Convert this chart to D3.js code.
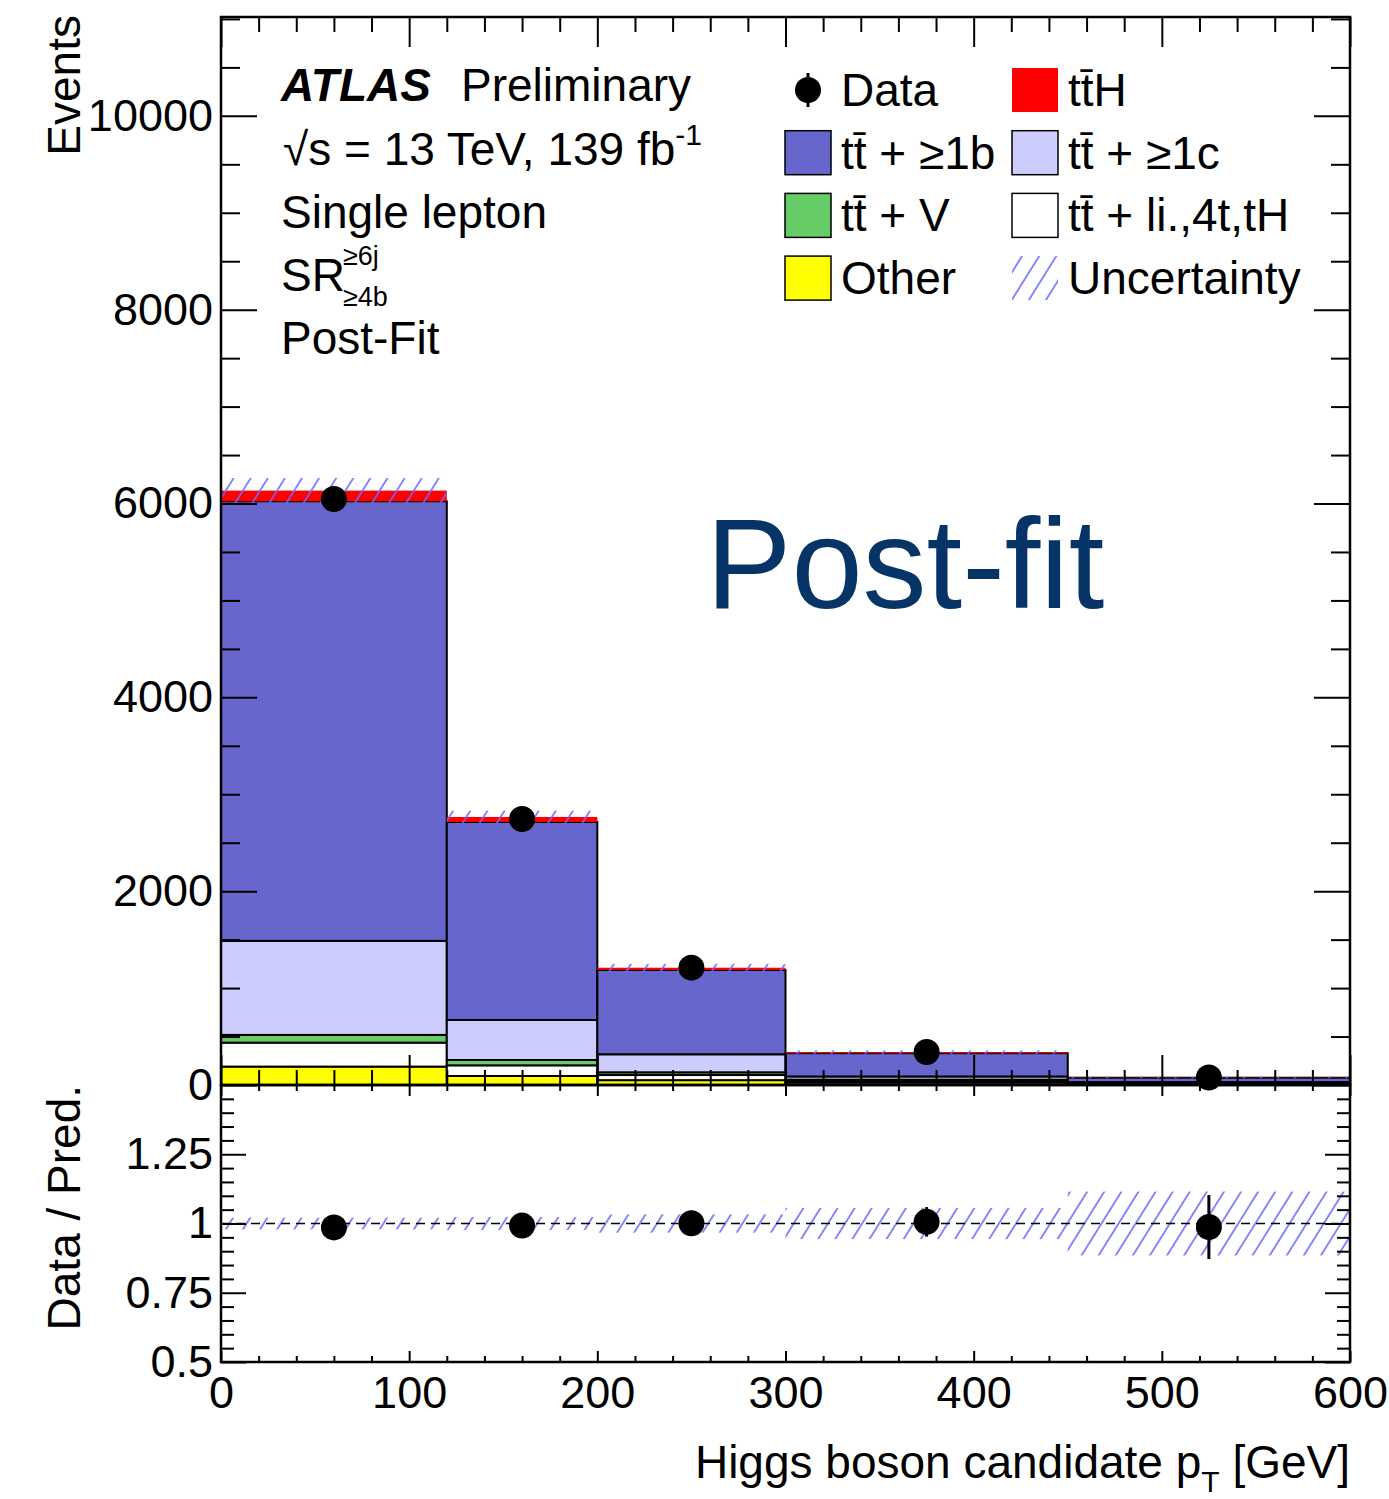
<!DOCTYPE html>
<html>
<head>
<meta charset="utf-8">
<script src="https://cdn.jsdelivr.net/npm/d3@7"></script>
<style>
  html, body { margin: 0; padding: 0; background: #fff; }
  svg { display: block; font-family: "Liberation Sans", Arial, Helvetica, sans-serif; }
</style>
</head>
<body>
<svg id="chart" width="1389" height="1499"></svg>
<script>
// ---------------- data ----------------
const binEdges = [0, 120, 200, 300, 450, 600];
const other    = [190, 93, 50, 25, 6];
const ttLight  = [247, 110, 53, 20, 6];
const ttV      = [80, 55, 28, 10, 3];
const tt1c     = [970, 413, 186, 33, 15];
const tt1b     = [4536, 2043, 870, 240, 45];
const ttH      = [110, 52, 23, 10, 3];
const dataVals = [6047, 2745, 1211, 340, 77];
const dataErr  = [78, 52, 35, 18, 9];
const uncAbs   = [130, 65, 40, 19, 9];

const mainYTicks  = [0, 2000, 4000, 6000, 8000, 10000];
const ratioYTicks = [0.5, 0.75, 1, 1.25];
const xTicks      = [0, 100, 200, 300, 400, 500, 600];

const componentNames  = ["other", "ttLight", "ttV", "tt1c", "tt1b", "ttH"];
const componentValues = { other, ttLight, ttV, tt1c, tt1b, ttH };
const componentColors = {
  other: "#ffff00", ttLight: "#ffffff", ttV: "#66cc66",
  tt1c: "#ccccff", tt1b: "#6666cc", ttH: "#ff0000"
};

// ---------------- geometry ----------------
const X0 = 221, X1 = 1350;
const MAIN_TOP = 17, MAIN_BOT = 1085, RAT_BOT = 1362;
const x = d3.scaleLinear().domain([0, 600]).range([X0, X1]);
const y = d3.scaleLinear().domain([0, 11020]).range([MAIN_BOT, MAIN_TOP]);
const r = d3.scaleLinear().domain([0.5, 1.5]).range([RAT_BOT, MAIN_BOT]);

const svg = d3.select("#chart");
const HATCH = "#6a6aff";

// hatch pattern
const defs = svg.append("defs");
const pat = defs.append("pattern")
  .attr("id", "hatch").attr("patternUnits", "userSpaceOnUse")
  .attr("width", 14.5).attr("height", 14.5)
  .attr("patternTransform", "rotate(32)");
pat.append("line").attr("x1", 2).attr("y1", 0).attr("x2", 2).attr("y2", 14.5)
  .attr("stroke", HATCH).attr("stroke-width", 1.6);

const bins = binEdges.slice(0, -1).map((lo, i) => {
  const o = { i, lo, hi: binEdges[i + 1], center: (lo + binEdges[i + 1]) / 2 };
  componentNames.forEach(n => o[n] = componentValues[n][i]);
  return o;
});
const stack = d3.stack().keys(componentNames)(bins);
const totals = bins.map((b, i) => d3.sum(componentNames, n => componentValues[n][i]));

// ---------------- main panel ----------------
const gMain = svg.append("g");
stack.forEach(layer => {
  const key = layer.key;
  gMain.append("g").selectAll("rect").data(layer).join("rect")
    .attr("x", d => x(d.data.lo))
    .attr("width", d => x(d.data.hi) - x(d.data.lo))
    .attr("y", d => y(d[1]))
    .attr("height", d => Math.max(0, y(d[0]) - y(d[1])))
    .attr("fill", componentColors[key])
    .attr("stroke", key === "ttH" ? "none" : "#000")
    .attr("stroke-width", 2);
});
// redraw black outline at top of tt1b (under red)
// uncertainty band
gMain.append("g").selectAll("rect").data(bins).join("rect")
  .attr("x", d => x(d.lo)).attr("width", d => x(d.hi) - x(d.lo))
  .attr("y", (d, i) => y(totals[i] + uncAbs[i]))
  .attr("height", (d, i) => y(totals[i] - uncAbs[i]) - y(totals[i] + uncAbs[i]))
  .attr("fill", "url(#hatch)");

// data points main
const gData = gMain.append("g");
gData.selectAll("line").data(bins).join("line")
  .attr("x1", d => x(d.center)).attr("x2", d => x(d.center))
  .attr("y1", (d, i) => y(dataVals[i] + dataErr[i]))
  .attr("y2", (d, i) => y(dataVals[i] - dataErr[i]))
  .attr("stroke", "#000").attr("stroke-width", 3);
gData.selectAll("circle").data(bins).join("circle")
  .attr("cx", d => x(d.center)).attr("cy", (d, i) => y(dataVals[i]))
  .attr("r", 13).attr("fill", "#000");

// ---------------- ratio panel ----------------
const gRat = svg.append("g");
gRat.append("g").selectAll("rect").data(bins).join("rect")
  .attr("x", d => x(d.lo)).attr("width", d => x(d.hi) - x(d.lo))
  .attr("y", (d, i) => r(1 + uncAbs[i] / totals[i]))
  .attr("height", (d, i) => r(1 - uncAbs[i] / totals[i]) - r(1 + uncAbs[i] / totals[i]))
  .attr("fill", "url(#hatch)");
gRat.append("line")
  .attr("x1", X0).attr("x2", X1).attr("y1", r(1)).attr("y2", r(1))
  .attr("stroke", "#000").attr("stroke-width", 1.6).attr("stroke-dasharray", "9,6");
gRat.append("g").selectAll("line").data(bins).join("line")
  .attr("x1", d => x(d.center)).attr("x2", d => x(d.center))
  .attr("y1", (d, i) => r((dataVals[i] + dataErr[i]) / totals[i]))
  .attr("y2", (d, i) => r((dataVals[i] - dataErr[i]) / totals[i]))
  .attr("stroke", "#000").attr("stroke-width", 3);
gRat.append("g").selectAll("circle").data(bins).join("circle")
  .attr("cx", d => x(d.center)).attr("cy", (d, i) => r(dataVals[i] / totals[i]))
  .attr("r", 13).attr("fill", "#000");

// ---------------- axes ----------------
function styleAxis(g, fs) {
  g.select(".domain").remove();
  g.selectAll(".tick line").attr("stroke", "#000").attr("stroke-width", 2);
  g.selectAll(".tick text").attr("font-size", fs).attr("fill", "#000")
    .attr("font-family", "Liberation Sans, Arial, sans-serif");
}
const range = (a, b, s) => d3.range(a, b + s / 2, s);

// main Y
styleAxis(svg.append("g").attr("transform", `translate(${X0},0)`)
  .call(d3.axisLeft(y).tickValues(mainYTicks).tickSize(-36).tickPadding(8).tickFormat(d => d)), 45);
styleAxis(svg.append("g").attr("transform", `translate(${X0},0)`)
  .call(d3.axisLeft(y).tickValues(range(0, 11000, 500).filter(v => v % 2000 !== 0)).tickSize(-19).tickFormat("")), 45);
styleAxis(svg.append("g").attr("transform", `translate(${X1},0)`)
  .call(d3.axisRight(y).tickValues(mainYTicks).tickSize(-36).tickFormat("")), 45);
styleAxis(svg.append("g").attr("transform", `translate(${X1},0)`)
  .call(d3.axisRight(y).tickValues(range(0, 11000, 500).filter(v => v % 2000 !== 0)).tickSize(-19).tickFormat("")), 45);
// main X (no labels)
const xMinor = range(0, 600, 20).filter(v => v % 100 !== 0);
[[MAIN_BOT, d3.axisBottom, 30, 15], [MAIN_TOP, d3.axisTop, 30, 15]].forEach(([yy, ax, big, small]) => {
  styleAxis(svg.append("g").attr("transform", `translate(0,${yy})`)
    .call(ax(x).tickValues(xTicks).tickSize(-big).tickFormat("")), 45);
  styleAxis(svg.append("g").attr("transform", `translate(0,${yy})`)
    .call(ax(x).tickValues(xMinor).tickSize(-small).tickFormat("")), 45);
});
// ratio Y
const rMinor = range(0.5, 1.5, 0.05).filter(v => Math.abs(v * 4 - Math.round(v * 4)) > 1e-6);
styleAxis(svg.append("g").attr("transform", `translate(${X0},0)`)
  .call(d3.axisLeft(r).tickValues(ratioYTicks).tickSize(-25).tickPadding(8).tickFormat(d => String(d))), 45);
styleAxis(svg.append("g").attr("transform", `translate(${X0},0)`)
  .call(d3.axisLeft(r).tickValues(rMinor).tickSize(-13).tickFormat("")), 45);
styleAxis(svg.append("g").attr("transform", `translate(${X1},0)`)
  .call(d3.axisRight(r).tickValues(ratioYTicks).tickSize(-25).tickFormat("")), 45);
styleAxis(svg.append("g").attr("transform", `translate(${X1},0)`)
  .call(d3.axisRight(r).tickValues(rMinor).tickSize(-13).tickFormat("")), 45);
// ratio X
styleAxis(svg.append("g").attr("transform", `translate(0,${RAT_BOT})`)
  .call(d3.axisBottom(x).tickValues(xTicks).tickSize(-11).tickPadding(14).tickFormat(d => d)), 45);
styleAxis(svg.append("g").attr("transform", `translate(0,${RAT_BOT})`)
  .call(d3.axisBottom(x).tickValues(xMinor).tickSize(-6).tickFormat("")), 45);
styleAxis(svg.append("g").attr("transform", `translate(0,${MAIN_BOT})`)
  .call(d3.axisTop(x).tickValues(xTicks).tickSize(-11).tickFormat("")), 45);
styleAxis(svg.append("g").attr("transform", `translate(0,${MAIN_BOT})`)
  .call(d3.axisTop(x).tickValues(xMinor).tickSize(-6).tickFormat("")), 45);

// frames
svg.append("rect").attr("x", X0).attr("y", MAIN_TOP).attr("width", X1 - X0).attr("height", MAIN_BOT - MAIN_TOP)
  .attr("fill", "none").attr("stroke", "#000").attr("stroke-width", 2.5);
svg.append("rect").attr("x", X0).attr("y", MAIN_BOT).attr("width", X1 - X0).attr("height", RAT_BOT - MAIN_BOT)
  .attr("fill", "none").attr("stroke", "#000").attr("stroke-width", 2.5);

// axis titles
const FS = 46;
svg.append("text").attr("transform", "translate(80,15) rotate(-90)")
  .attr("text-anchor", "end").attr("font-size", FS).text("Events");
svg.append("text").attr("transform", `translate(80,${MAIN_BOT}) rotate(-90)`)
  .attr("text-anchor", "end").attr("font-size", FS).text("Data / Pred.");
const xt = svg.append("text").attr("x", X1).attr("y", 1478).attr("text-anchor", "end").attr("font-size", FS);
xt.append("tspan").text("Higgs boson candidate p");
xt.append("tspan").attr("font-size", 30).attr("dy", 14).text("T");
xt.append("tspan").attr("dy", -14).text(" [GeV]");

// ---------------- labels ----------------
const lab = svg.append("g").attr("font-size", FS).attr("fill", "#000");
lab.append("text").attr("x", 281).attr("y", 101).attr("font-weight", "bold").attr("font-style", "italic").text("ATLAS");
lab.append("text").attr("x", 461).attr("y", 101).text("Preliminary");
const sq = lab.append("text").attr("x", 283).attr("y", 165);
sq.append("tspan").text("\u221As = 13 TeV, 139 fb");
sq.append("tspan").attr("font-size", 30).attr("dy", -20).text("-1");
lab.append("text").attr("x", 281).attr("y", 228).text("Single lepton");
lab.append("text").attr("x", 281).attr("y", 291).text("SR");
lab.append("text").attr("x", 343).attr("y", 265).attr("font-size", 27).text("\u22656j");
lab.append("text").attr("x", 343).attr("y", 306).attr("font-size", 27).text("\u22654b");
lab.append("text").attr("x", 281).attr("y", 354).text("Post-Fit");

svg.append("text").attr("x", 706).attr("y", 608).attr("font-size", 128)
  .attr("fill", "rgb(7,52,103)").text("Post-fit");

// ---------------- legend ----------------
const TT = "t t\u0304".replace(" ", "");
const legendItems = [
  { label: "Data", type: "data", col: 0, row: 0 },
  { label: TT + "H", type: "box", fill: componentColors.ttH, stroke: "none", col: 1, row: 0 },
  { label: TT + " + \u22651b", type: "box", fill: componentColors.tt1b, col: 0, row: 1 },
  { label: TT + " + \u22651c", type: "box", fill: componentColors.tt1c, col: 1, row: 1 },
  { label: TT + " + V", type: "box", fill: componentColors.ttV, col: 0, row: 2 },
  { label: TT + " + li.,4t,tH", type: "box", fill: componentColors.ttLight, col: 1, row: 2 },
  { label: "Other", type: "box", fill: componentColors.other, col: 0, row: 3 },
  { label: "Uncertainty", type: "hatch", col: 1, row: 3 }
];
const legX = [785, 1012], legY0 = 90, legDY = 62.7;
const lg = svg.append("g");
legendItems.forEach(it => {
  const bx = legX[it.col], cy = legY0 + it.row * legDY;
  if (it.type === "data") {
    lg.append("line").attr("x1", bx + 23).attr("x2", bx + 23).attr("y1", cy - 17).attr("y2", cy + 17)
      .attr("stroke", "#000").attr("stroke-width", 3);
    lg.append("circle").attr("cx", bx + 23).attr("cy", cy).attr("r", 13).attr("fill", "#000");
  } else if (it.type === "box") {
    lg.append("rect").attr("x", bx).attr("y", cy - 22).attr("width", 46).attr("height", 44)
      .attr("fill", it.fill).attr("stroke", it.stroke || "#000").attr("stroke-width", 1.5);
  } else {
    lg.append("rect").attr("x", bx).attr("y", cy - 22).attr("width", 46).attr("height", 44)
      .attr("fill", "url(#hatch)");
  }
  lg.append("text").attr("x", bx + 56).attr("y", cy + 16).attr("font-size", FS).text(it.label);
});
</script>
</body>
</html>
